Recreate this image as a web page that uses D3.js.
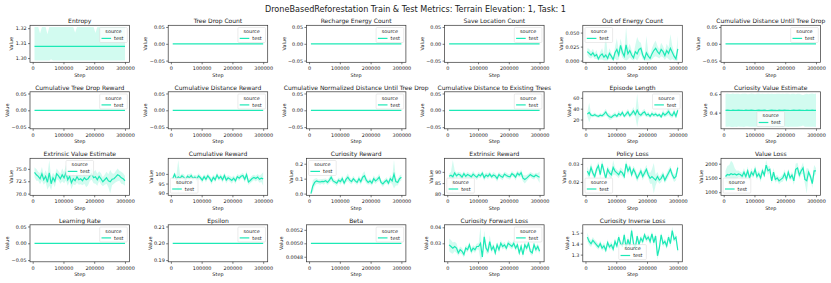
<!DOCTYPE html>
<html>
<head>
<meta charset="utf-8">
<script src="https://cdn.jsdelivr.net/npm/d3@7"></script>
<style>
  body { margin: 0; background: #fff; }
  svg { display: block; }
  text { font-family: "DejaVu Sans", sans-serif; fill: #1a1a1a; }
</style>
</head>
<body>
<svg id="chart" width="831" height="283"></svg>
<script>
// steps logged for the test source
const steps = [6000, 12000, 18000, 24000, 30000, 36000, 42000, 48000, 54000, 60000,
  66000, 72000, 78000, 84000, 90000, 96000, 102000, 108000, 114000, 120000,
  126000, 132000, 138000, 144000, 150000, 156000, 162000, 168000, 174000, 180000,
  186000, 192000, 198000, 204000, 210000, 216000, 222000, 228000, 234000, 240000,
  246000, 252000, 258000, 264000, 270000, 276000, 282000, 288000, 294000, 300000];
const xTicks = [0, 100000, 200000, 300000];

// constant metrics
const entropyMean = 1.3078;
const treeDropCount = 0, rechargeEnergyCount = 0, saveLocationCount = 0, cumDistUntilTreeDrop = 0;
const cumTreeDropReward = 0, cumDistanceReward = 0, cumNormDistUntilTreeDrop = 0, cumDistToExistingTrees = 0;
const learningRate = 0, epsilon = 0.2, beta = 0.005;

const entropyLo = [1.2983, 1.2983, 1.2983, 1.2983, 1.2983, 1.2983, 1.2983, 1.2983, 1.2983, 1.2992,
  1.2983, 1.2983, 1.2983, 1.2983, 1.2983, 1.2983, 1.2983, 1.2983, 1.2983, 1.2983,
  1.2983, 1.2983, 1.2983, 1.2983, 1.2983, 1.2983, 1.2983, 1.2983, 1.2983, 1.2983,
  1.2983, 1.2983, 1.2983, 1.2983, 1.2983, 1.2983, 1.2983, 1.2983, 1.2983, 1.2983,
  1.2983, 1.2983, 1.2983, 1.2983, 1.2983, 1.2983, 1.2983, 1.2983, 1.2983, 1.2983];
const entropyHi = [1.3208, 1.3208, 1.3208, 1.3165, 1.3208, 1.3208, 1.3208, 1.3160, 1.3208, 1.3208,
  1.3208, 1.3208, 1.3208, 1.3208, 1.3208, 1.3208, 1.3208, 1.3208, 1.3208, 1.3208,
  1.3208, 1.3208, 1.3170, 1.3208, 1.3208, 1.3208, 1.3208, 1.3208, 1.3208, 1.3208,
  1.3208, 1.3208, 1.3208, 1.3168, 1.3208, 1.3208, 1.3208, 1.3208, 1.3208, 1.3208,
  1.3208, 1.3208, 1.3208, 1.3208, 1.3208, 1.3208, 1.3208, 1.3208, 1.3208, 1.3208];

const outOfEnergyMean = [0.016, 0.013, 0.010, 0.014, 0.008, 0.011, 0.003, 0.009, 0.012, 0.006,
  0.010, 0.004, 0.013, 0.008, 0.002, 0.014, 0.020, 0.010, 0.027, 0.015,
  0.008, 0.028, 0.012, 0.018, 0.010, 0.005, 0.016, 0.012, 0.020, 0.022,
  0.010, 0.003, 0.014, 0.008, 0.004, 0.012, 0.018, 0.022, 0.016, 0.012,
  0.020, 0.016, 0.009, 0.018, 0.013, 0.022, 0.015, 0.008, 0.003, 0.021];
const outOfEnergySpread = [0.006, 0.008, 0.006, 0.007, 0.005, 0.008, 0.004, 0.007, 0.010, 0.006,
  0.040, 0.005, 0.009, 0.006, 0.003, 0.010, 0.020, 0.008, 0.012, 0.010,
  0.006, 0.032, 0.010, 0.012, 0.008, 0.006, 0.012, 0.030, 0.014, 0.010,
  0.008, 0.005, 0.030, 0.008, 0.005, 0.010, 0.012, 0.014, 0.010, 0.008,
  0.012, 0.010, 0.008, 0.012, 0.010, 0.025, 0.012, 0.008, 0.005, 0.024];

const episodeLengthMean = [30, 33, 28, 27, 29, 27, 26, 28, 27, 30, 34, 28, 25, 24, 27, 29, 26, 31, 28, 33,
  26, 30, 34, 27, 31, 36, 29, 37, 30, 28, 32, 34, 28, 30, 26, 31, 28, 30, 27, 29,
  25, 32, 28, 31, 35, 29, 27, 34, 26, 37];
const episodeLengthSpread = [4, 18, 4, 3, 4, 3, 3, 4, 3, 5, 6, 4, 6, 4, 4, 5, 3, 6, 4, 5,
  3, 5, 6, 4, 5, 7, 4, 31, 6, 4, 5, 6, 4, 5, 3, 5, 4, 5, 3, 4,
  3, 6, 4, 5, 7, 5, 4, 6, 4, 5];

const curiosityValueMean = [0.424, 0.426, 0.425, 0.423, 0.426, 0.424, 0.425, 0.427, 0.424, 0.425,
  0.423, 0.426, 0.425, 0.424, 0.426, 0.425, 0.423, 0.425, 0.426, 0.424,
  0.425, 0.426, 0.424, 0.423, 0.425, 0.426, 0.424, 0.425, 0.423, 0.426,
  0.425, 0.424, 0.426, 0.425, 0.424, 0.423, 0.425, 0.426, 0.424, 0.425,
  0.426, 0.424, 0.425, 0.423, 0.426, 0.424, 0.425, 0.426, 0.424, 0.425];
const curiosityValueSpread = [0.178, 0.180, 0.176, 0.179, 0.181, 0.177, 0.180, 0.178, 0.176, 0.179,
  0.180, 0.177, 0.175, 0.178, 0.180, 0.179, 0.176, 0.178, 0.181, 0.177,
  0.179, 0.176, 0.178, 0.180, 0.177, 0.179, 0.178, 0.176, 0.180, 0.178,
  0.177, 0.179, 0.176, 0.178, 0.180, 0.177, 0.179, 0.178, 0.176, 0.178,
  0.177, 0.172, 0.165, 0.177, 0.179, 0.176, 0.178, 0.180, 0.177, 0.182];

const extrinsicValueMean = [74.3, 73.8, 73.5, 73.0, 74.0, 72.8, 73.5, 72.3, 74.2, 72.0,
  73.2, 72.5, 74.0, 73.6, 73.0, 73.8, 73.2, 74.2, 72.8, 73.5,
  72.2, 73.0, 72.6, 73.4, 72.8, 73.0, 72.6, 73.2, 72.8, 73.0,
  73.6, 74.0, 73.2, 73.4, 72.8, 73.5, 73.0, 72.4, 72.8, 73.2,
  72.6, 72.4, 72.9, 73.0, 73.4, 73.8, 73.6, 73.2, 73.0, 72.6];
const extrinsicValueSpread = [1.0, 1.2, 0.9, 1.1, 1.4, 1.0, 1.2, 1.5, 2.6, 1.3,
  1.0, 1.2, 1.1, 0.9, 1.0, 1.3, 1.1, 1.6, 1.2, 1.0,
  1.3, 1.1, 0.9, 1.2, 1.0, 1.1, 0.9, 1.2, 1.5, 1.3,
  1.0, 1.2, 1.1, 1.4, 1.2, 1.0, 1.1, 0.9, 1.0, 1.2,
  1.3, 2.4, 1.2, 1.0, 1.1, 1.3, 1.0, 1.2, 1.1, 1.0];

const cumRewardMean = [97.5, 99.8, 97.2, 98.5, 97.8, 99.0, 98.2, 97.0, 98.8, 98.0,
  99.2, 97.6, 98.4, 97.4, 98.9, 98.0, 96.8, 98.6, 97.2, 99.0,
  97.8, 96.2, 98.2, 97.0, 99.4, 97.6, 98.6, 97.0, 99.2, 96.8,
  98.0, 97.4, 96.6, 97.8, 96.4, 98.6, 97.8, 98.8, 99.2, 97.2,
  99.6, 95.8, 96.6, 97.6, 98.2, 97.6, 98.4, 97.2, 97.8, 97.4];
const cumRewardSpread = [1.5, 1.2, 2.0, 8.7, 1.5, 1.2, 1.6, 1.4, 1.2, 1.8,
  1.3, 1.5, 1.2, 1.6, 1.4, 1.3, 1.5, 1.2, 1.6, 1.4,
  1.2, 1.8, 1.3, 1.5, 1.4, 1.2, 1.5, 1.6, 1.4, 1.8,
  1.3, 1.5, 1.7, 1.4, 1.6, 1.3, 1.5, 1.2, 1.4, 1.6,
  1.9, 1.5, 1.4, 1.6, 1.3, 1.5, 1.6, 1.8, 2.0, 3.5];

const curiosityRewardMean = [0.0, 0.05, 0.075, 0.085, 0.08, 0.078, 0.082, 0.08, 0.086, 0.075,
  0.09, 0.11, 0.085, 0.078, 0.07, 0.09, 0.08, 0.10, 0.07, 0.095,
  0.11, 0.09, 0.08, 0.10, 0.085, 0.075, 0.10, 0.08, 0.11, 0.12,
  0.09, 0.075, 0.085, 0.07, 0.10, 0.085, 0.095, 0.11, 0.075, 0.065,
  0.08, 0.09, 0.07, 0.10, 0.085, 0.13, 0.08, 0.075, 0.10, 0.11];
const curiosityRewardSpread = [0.0, 0.04, 0.025, 0.02, 0.015, 0.018, 0.016, 0.02, 0.015, 0.018,
  0.02, 0.025, 0.018, 0.015, 0.02, 0.018, 0.02, 0.022, 0.015, 0.02,
  0.025, 0.02, 0.018, 0.02, 0.015, 0.018, 0.022, 0.02, 0.025, 0.03,
  0.022, 0.015, 0.02, 0.018, 0.022, 0.02, 0.018, 0.025, 0.015, 0.02,
  0.018, 0.02, 0.018, 0.025, 0.02, 0.095, 0.025, 0.02, 0.022, 0.02];

const extrinsicRewardMean = [88.0, 88.5, 87.8, 89.5, 88.2, 89.0, 88.6, 87.6, 89.2, 88.0,
  88.8, 88.4, 87.8, 89.0, 88.2, 87.6, 88.8, 88.2, 89.4, 87.4,
  88.6, 88.0, 89.0, 87.8, 88.6, 88.2, 87.0, 88.8, 88.0, 87.6,
  89.0, 88.4, 88.0, 87.8, 89.2, 88.6, 87.6, 89.4, 88.6, 89.6,
  87.2, 86.6, 87.2, 88.0, 88.8, 88.2, 87.8, 88.6, 88.0, 87.6];
const extrinsicRewardSpread = [1.2, 1.5, 7.5, 1.2, 1.3, 1.0, 1.2, 1.4, 1.1, 1.2,
  1.3, 1.0, 1.2, 1.4, 1.1, 1.2, 1.3, 1.0, 1.2, 1.4,
  1.1, 1.3, 1.2, 1.0, 1.3, 1.2, 1.4, 1.1, 1.2, 1.3,
  1.0, 1.2, 1.1, 1.3, 1.2, 1.0, 1.4, 1.2, 1.1, 1.5,
  1.5, 1.8, 1.4, 1.2, 1.1, 1.3, 1.2, 1.0, 1.4, 2.6];

const policyLossMean = [0.026, 0.024, 0.028, 0.025, 0.023, 0.027, 0.029, 0.024, 0.030, 0.026,
  0.022, 0.027, 0.025, 0.024, 0.028, 0.026, 0.025, 0.024, 0.026, 0.025,
  0.023, 0.030, 0.026, 0.028, 0.024, 0.027, 0.025, 0.022, 0.024, 0.026,
  0.023, 0.025, 0.027, 0.024, 0.022, 0.023, 0.022, 0.021, 0.023, 0.021,
  0.022, 0.024, 0.021, 0.023, 0.025, 0.027, 0.024, 0.022, 0.023, 0.028];
const policyLossSpread = [0.0025, 0.002, 0.0025, 0.002, 0.0018, 0.002, 0.0022, 0.002, 0.0022, 0.002,
  0.0018, 0.002, 0.0022, 0.002, 0.004, 0.002, 0.0018, 0.002, 0.0022, 0.002,
  0.0018, 0.002, 0.0022, 0.002, 0.0018, 0.002, 0.0022, 0.002, 0.0018, 0.002,
  0.0022, 0.002, 0.0025, 0.002, 0.003, 0.004, 0.0085, 0.003, 0.0025, 0.002,
  0.0022, 0.002, 0.0018, 0.002, 0.0022, 0.002, 0.0018, 0.002, 0.0022, 0.002];

const valueLossMean = [1550, 1620, 1600, 1650, 1620, 1640, 1600, 1640, 1620, 1560,
  1700, 1550, 1750, 1500, 1700, 1600, 1800, 1550, 1650, 1500,
  1750, 1600, 1950, 1750, 1800, 1400, 1700, 1450, 1500, 1400,
  1450, 1500, 1650, 1450, 1700, 1500, 1600, 1400, 1800, 1850,
  1600, 1750, 1850, 1450, 1400, 1700, 1550, 1300, 1750, 1750];
const valueLossSpread = [200, 300, 350, 450, 400, 200, 150, 120, 100, 120,
  150, 100, 150, 120, 150, 100, 150, 120, 100, 150,
  120, 100, 180, 150, 120, 100, 150, 120, 100, 120,
  100, 130, 150, 100, 120, 100, 130, 150, 200, 180,
  150, 130, 200, 150, 450, 120, 100, 150, 200, 100];

const curiosityFwdMean = [0.029, 0.028, 0.027, 0.028, 0.027, 0.024, 0.026, 0.025, 0.023, 0.027,
  0.026, 0.029, 0.025, 0.027, 0.026, 0.028, 0.028, 0.030, 0.0215, 0.034,
  0.027, 0.025, 0.031, 0.026, 0.028, 0.024, 0.029, 0.026, 0.030, 0.028,
  0.029, 0.027, 0.030, 0.029, 0.028, 0.030, 0.027, 0.029, 0.024, 0.028,
  0.023, 0.029, 0.027, 0.030, 0.025, 0.024, 0.029, 0.026, 0.028, 0.025];
const curiosityFwdSpread = [0.004, 0.004, 0.0035, 0.003, 0.003, 0.002, 0.002, 0.002, 0.0018, 0.002,
  0.0018, 0.002, 0.002, 0.0018, 0.002, 0.0018, 0.002, 0.0105, 0.0005, 0.004,
  0.003, 0.002, 0.004, 0.002, 0.0018, 0.002, 0.0018, 0.002, 0.002, 0.0018,
  0.002, 0.0018, 0.002, 0.002, 0.0018, 0.002, 0.0018, 0.002, 0.002, 0.0018,
  0.002, 0.0018, 0.002, 0.002, 0.0018, 0.002, 0.0018, 0.002, 0.002, 0.0018];

const curiosityInvMean = [1.46, 1.42, 1.40, 1.43, 1.41, 1.39, 1.37, 1.40, 1.36, 1.38,
  1.34, 1.41, 1.37, 1.39, 1.35, 1.42, 1.38, 1.46, 1.40, 1.38,
  1.48, 1.36, 1.44, 1.38, 1.52, 1.40, 1.36, 1.47, 1.39, 1.45,
  1.42, 1.48, 1.44, 1.46, 1.42, 1.49, 1.41, 1.47, 1.29, 1.36,
  1.48, 1.40, 1.42, 1.38, 1.46, 1.40, 1.52, 1.44, 1.46, 1.34];
const curiosityInvSpread = [0.04, 0.035, 0.03, 0.03, 0.025, 0.03, 0.025, 0.03, 0.025, 0.03,
  0.025, 0.03, 0.025, 0.03, 0.025, 0.03, 0.025, 0.03, 0.025, 0.03,
  0.025, 0.03, 0.025, 0.03, 0.03, 0.025, 0.03, 0.025, 0.03, 0.025,
  0.03, 0.025, 0.03, 0.025, 0.03, 0.025, 0.03, 0.025, 0.04, 0.03,
  0.025, 0.03, 0.025, 0.03, 0.025, 0.03, 0.037, 0.025, 0.03, 0.025];

const zeroTicks = [-0.05, 0, 0.05];

function flat(v) { return steps.map(() => v); }
function band(mean, spread, floor) {
  return {
    mean: mean,
    lo: mean.map((m, i) => floor == null ? m - spread[i] : Math.max(floor, m - spread[i])),
    hi: mean.map((m, i) => m + spread[i])
  };
}
function still(v) { return { mean: flat(v), lo: flat(v), hi: flat(v) }; }

const panels = [
  { title: 'Entropy', s: { mean: flat(entropyMean), lo: entropyLo, hi: entropyHi }, ticks: [1.30, 1.31, 1.32], fmt: '.2f', loc: 'ur' },
  { title: 'Tree Drop Count', s: still(treeDropCount), ticks: zeroTicks, fmt: '.2f', loc: 'ur' },
  { title: 'Recharge Energy Count', s: still(rechargeEnergyCount), ticks: zeroTicks, fmt: '.2f', loc: 'ur' },
  { title: 'Save Location Count', s: still(saveLocationCount), ticks: zeroTicks, fmt: '.2f', loc: 'ur' },
  { title: 'Out of Energy Count', s: band(outOfEnergyMean, outOfEnergySpread, 0), ticks: [0, 0.025, 0.05], fmt: '.3f', loc: 'ul' },
  { title: 'Cumulative Distance Until Tree Drop', s: still(cumDistUntilTreeDrop), ticks: zeroTicks, fmt: '.2f', loc: 'ur' },
  { title: 'Cumulative Tree Drop Reward', s: still(cumTreeDropReward), ticks: zeroTicks, fmt: '.2f', loc: 'ur' },
  { title: 'Cumulative Distance Reward', s: still(cumDistanceReward), ticks: zeroTicks, fmt: '.2f', loc: 'ur' },
  { title: 'Cumulative Normalized Distance Until Tree Drop', s: still(cumNormDistUntilTreeDrop), ticks: zeroTicks, fmt: '.2f', loc: 'ur' },
  { title: 'Cumulative Distance to Existing Trees', s: still(cumDistToExistingTrees), ticks: zeroTicks, fmt: '.2f', loc: 'ur' },
  { title: 'Episode Length', s: band(episodeLengthMean, episodeLengthSpread), ticks: [20, 40, 60], fmt: 'd', loc: 'ur' },
  { title: 'Curiosity Value Estimate', s: band(curiosityValueMean, curiosityValueSpread), ticks: [0.4, 0.6], fmt: '.1f', loc: 'lc' },
  { title: 'Extrinsic Value Estimate', s: band(extrinsicValueMean, extrinsicValueSpread), ticks: [70, 72.5, 75], fmt: '.1f', loc: 'uc' },
  { title: 'Cumulative Reward', s: band(cumRewardMean, cumRewardSpread), ticks: [90, 95, 100], fmt: 'd', loc: 'll' },
  { title: 'Curiosity Reward', s: band(curiosityRewardMean, curiosityRewardSpread), ticks: [0, 0.1, 0.2], fmt: '.1f', loc: 'ul' },
  { title: 'Extrinsic Reward', s: band(extrinsicRewardMean, extrinsicRewardSpread), ticks: [80, 85, 90], fmt: 'd', loc: 'll' },
  { title: 'Policy Loss', s: band(policyLossMean, policyLossSpread), ticks: [0.02, 0.03], fmt: '.2f', loc: 'll' },
  { title: 'Value Loss', s: band(valueLossMean, valueLossSpread), ticks: [1000, 1500, 2000], fmt: 'd', loc: 'll' },
  { title: 'Learning Rate', s: still(learningRate), ticks: zeroTicks, fmt: '.2f', loc: 'ur' },
  { title: 'Epsilon', s: still(epsilon), ticks: [0.19, 0.20, 0.21], fmt: '.2f', loc: 'ur' },
  { title: 'Beta', s: still(beta), ticks: [0.0048, 0.0050, 0.0052], fmt: '.4f', loc: 'ur' },
  { title: 'Curiosity Forward Loss', s: band(curiosityFwdMean, curiosityFwdSpread), ticks: [0.03, 0.04], fmt: '.2f', loc: 'ur' },
  { title: 'Curiosity Inverse Loss', s: band(curiosityInvMean, curiosityInvSpread), ticks: [1.3, 1.4, 1.5], fmt: '.1f', loc: 'lc' }
];

const teal = '#1de9b6';
const pw = 99.5, ph = 37;
const colX = d3.range(6).map(i => 30 + i * 138.2);
const rowY = d3.range(4).map(i => 25.3 + i * 66.5);

const svg = d3.select('#chart');

svg.append('text')
  .attr('x', 415.5).attr('y', 12.4)
  .attr('text-anchor', 'middle')
  .style('font-size', '8.1px')
  .text('DroneBasedReforestation Train & Test Metrics: Terrain Elevation: 1, Task: 1');

// matplotlib style autoscale: 5% margins, singular values widened
function padded(lo, hi) {
  if (lo === hi) {
    const d = lo === 0 ? 0.05 : Math.abs(lo) * 0.05;
    lo -= d; hi += d;
  }
  const m = (hi - lo) * 0.05;
  return [lo - m, hi + m];
}

panels.forEach((p, i) => {
  const gx = colX[i % 6], gy = rowY[Math.floor(i / 6)];
  const g = svg.append('g').attr('transform', `translate(${gx},${gy})`);

  const x = d3.scaleLinear().domain(padded(d3.min(steps), d3.max(steps))).range([0, pw]);
  const y = d3.scaleLinear().domain(padded(d3.min(p.s.lo), d3.max(p.s.hi))).range([ph, 0]);

  const clipId = 'clip' + i;
  g.append('clipPath').attr('id', clipId)
    .append('rect').attr('width', pw).attr('height', ph);

  const pts = steps.map((st, k) => ({ st, m: p.s.mean[k], lo: p.s.lo[k], hi: p.s.hi[k] }));

  g.append('path').datum(pts)
    .attr('clip-path', `url(#${clipId})`)
    .attr('fill', teal).attr('fill-opacity', 0.2)
    .attr('d', d3.area().x(d => x(d.st)).y0(d => y(d.lo)).y1(d => y(d.hi)));

  g.append('path').datum(pts)
    .attr('clip-path', `url(#${clipId})`)
    .attr('fill', 'none').attr('stroke', teal).attr('stroke-width', 1.2)
    .attr('d', d3.line().x(d => x(d.st)).y(d => y(d.m)));

  const xa = g.append('g').attr('transform', `translate(0,${ph})`)
    .call(d3.axisBottom(x).tickValues(xTicks).tickFormat(d3.format('d')).tickSize(2).tickPadding(2.4));
  const ya = g.append('g')
    .call(d3.axisLeft(y).tickValues(p.ticks).tickFormat(d3.format(p.fmt)).tickSize(2).tickPadding(1.4));
  [xa, ya].forEach(a => {
    a.select('.domain').remove();
    a.selectAll('line').attr('stroke', '#222').attr('stroke-width', 0.6);
    a.selectAll('text').style('font-size', '4.9px').style('font-family', '"DejaVu Sans", sans-serif').attr('fill', '#1a1a1a');
  });

  g.append('rect').attr('width', pw).attr('height', ph)
    .attr('fill', 'none').attr('stroke', '#333').attr('stroke-width', 0.7);

  g.append('text').attr('x', pw / 2).attr('y', -2.2)
    .attr('text-anchor', 'middle').style('font-size', '6px').text(p.title);

  g.append('text').attr('x', pw / 2).attr('y', ph + 14.6)
    .attr('text-anchor', 'middle').style('font-size', '4.9px').text('Step');

  let tw = 0;
  ya.selectAll('text').each(function () { tw = Math.max(tw, this.getComputedTextLength()); });
  const lx = -3.4 - tw - 2.4;
  g.append('text').attr('transform', `translate(${lx},${ph / 2}) rotate(-90)`)
    .attr('text-anchor', 'middle').style('font-size', '4.9px').text('Value');

  // legend
  const lw = 27.6, lh = 15, pad = 2.2;
  let bx = pw - pad - lw, by = pad;
  if (p.loc[1] === 'l') bx = pad;
  if (p.loc[1] === 'c') bx = (pw - lw) / 2;
  if (p.loc[0] === 'l') by = ph - pad - lh;
  const lg = g.append('g').attr('transform', `translate(${bx},${by})`);
  lg.append('rect').attr('width', lw).attr('height', lh).attr('rx', 1)
    .attr('fill', '#fff').attr('fill-opacity', 0.8)
    .attr('stroke', '#d6d6d6').attr('stroke-width', 0.5);
  lg.append('text').attr('x', lw / 2).attr('y', 5.7)
    .attr('text-anchor', 'middle').style('font-size', '4.9px').text('source');
  lg.append('line').attr('x1', 1.8).attr('x2', 11.4).attr('y1', 10.9).attr('y2', 10.9)
    .attr('stroke', teal).attr('stroke-width', 1.2);
  lg.append('text').attr('x', 14.4).attr('y', 12.6)
    .style('font-size', '4.9px').text('test');
});
</script>
</body>
</html>
